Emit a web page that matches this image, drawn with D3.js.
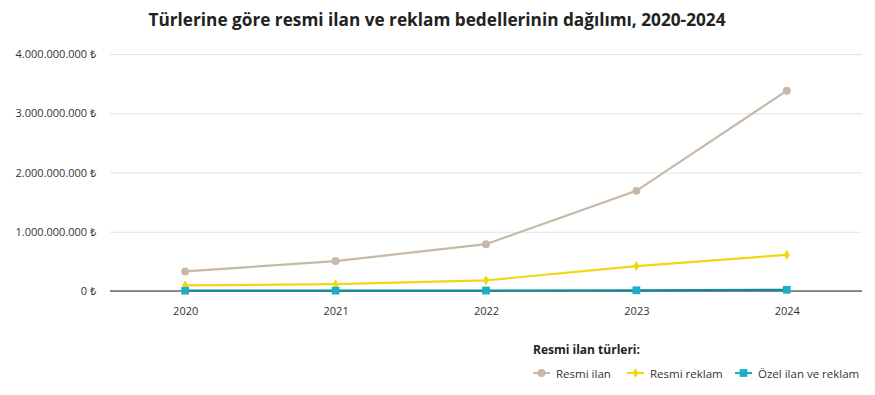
<!DOCTYPE html>
<html><head><meta charset="utf-8">
<script src="https://cdn.jsdelivr.net/npm/d3@7"></script>
<style>body{margin:0;background:#fff;font-family:"Open Sans","Noto Sans",sans-serif;}</style>
</head><body><svg id="c" width="875" height="395"></svg>
<script>
const years = ["2020","2021","2022","2023","2024"];
const resmiIlan = [330e6, 505e6, 790e6, 1690e6, 3380e6];
const resmiReklam = [95e6, 115e6, 180e6, 420e6, 610e6];
const ozelIlan = [5e6, 6e6, 8e6, 12e6, 20e6];
const yTicks = [0, 1e9, 2e9, 3e9, 4e9];
const seriesNames = ["Resmi ilan", "Resmi reklam", "Özel ilan ve reklam"];
const colors = ["#c8b8a9", "#f2d614", "#1aafc6"];
const markers = ["circle", "diamond", "square"];

const svg = d3.select("#c");
const x = d3.scalePoint().domain(years).range([110, 862]).padding(0.5);
const y = d3.scaleLinear().domain([0, 4e9]).range([291, 54]);
const fmt = v => d3.format(",")(v).replace(/,/g, ".") + " ₺";

svg.append("text").attr("x", 437).attr("y", 26).attr("text-anchor", "middle")
  .attr("font-size", 17).attr("font-weight", "bold").attr("fill", "#222")
  .attr("textLength", 577).attr("lengthAdjust", "spacingAndGlyphs")
  .text("Türlerine göre resmi ilan ve reklam bedellerinin dağılımı, 2020-2024");

const yAxis = svg.append("g").attr("transform", "translate(110,0)")
  .call(d3.axisLeft(y).tickValues(yTicks).tickFormat(fmt).tickSize(-752).tickPadding(14));
yAxis.select(".domain").remove();
yAxis.selectAll(".tick line").attr("stroke", "#e3e3e3");
yAxis.selectAll(".tick text").attr("font-size", 11).attr("fill", "#333").attr("font-family", "Open Sans, sans-serif");

const xAxis = svg.append("g").attr("transform", "translate(0,291)")
  .call(d3.axisBottom(x).tickSize(0).tickPadding(16));
xAxis.select(".domain").attr("stroke", "#222").attr("d", "M110,0H862");
xAxis.selectAll(".tick text").attr("font-size", 11).attr("fill", "#333").attr("font-family", "Open Sans, sans-serif");

const data = [resmiIlan, resmiReklam, ozelIlan];
const line = d3.line().x((d, i) => x(years[i])).y(d => y(d));
const symType = {circle: d3.symbolCircle, diamond: d3.symbolDiamond, square: d3.symbolSquare};
const symSize = {circle: 50, diamond: 30, square: 60};

data.forEach((vals, si) => {
  svg.append("path").datum(vals).attr("d", line).attr("fill", "none")
    .attr("stroke", si === 2 ? "#0f8a9a" : colors[si]).attr("stroke-width", 2.2);
  svg.selectAll(null).data(vals).enter().append("path")
    .attr("transform", (d, i) => `translate(${x(years[i])},${y(d)})`)
    .attr("d", d3.symbol().type(symType[markers[si]]).size(symSize[markers[si]]))
    .attr("fill", colors[si]);
});

// legend
svg.append("text").attr("x", 533).attr("y", 354).attr("font-size", 12).attr("font-weight", "bold")
  .attr("fill", "#222").text("Resmi ilan türleri:");
const legX = [533, 627, 735];
seriesNames.forEach((n, i) => {
  const g = svg.append("g").attr("transform", `translate(${legX[i]},373)`);
  g.append("line").attr("x1", 0).attr("x2", 17).attr("stroke", colors[i]).attr("stroke-width", 2);
  g.append("path").attr("transform", "translate(8.5,0)")
    .attr("d", d3.symbol().type(symType[markers[i]]).size(symSize[markers[i]])).attr("fill", colors[i]);
  g.append("text").attr("x", 23).attr("y", 4.5).attr("font-size", 11.5).attr("fill", "#333").text(n);
});
</script></body></html>
